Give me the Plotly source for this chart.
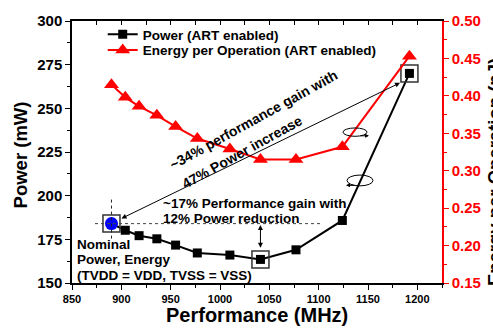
import plotly.graph_objects as go

# ---- data ----
perf_mhz = [890, 904, 918, 936, 955, 977, 1010, 1041, 1077, 1124, 1192]
power_mw = [184, 180.2, 177.1, 175.3, 171.7, 167.2, 166.0, 163.5, 169.0, 185.8, 270.0]
energy_nj = [0.415, 0.398, 0.386, 0.374, 0.359, 0.343, 0.329, 0.315, 0.315, 0.332, 0.453]
boxed_idx = [0, 7, 10]          # points highlighted with hollow squares
nominal_idx = 0                 # nominal operating point (blue)

x_ticks = [850, 900, 950, 1000, 1050, 1100, 1150, 1200]
FONT = "Liberation Sans, Arial, sans-serif"

fig = go.Figure()

fig.add_trace(go.Scatter(
    x=perf_mhz, y=power_mw, mode="lines+markers", name="Power (ART enabled)",
    line=dict(color="black", width=2), legend="legend",
    marker=dict(symbol="square", size=9, color="black"),
))
fig.add_trace(go.Scatter(
    x=[perf_mhz[i] for i in boxed_idx], y=[power_mw[i] for i in boxed_idx],
    mode="markers", showlegend=False, hoverinfo="skip",
    marker=dict(symbol="square-open", size=17, color="#333333", line=dict(width=1.5)),
))
fig.add_trace(go.Scatter(
    x=[perf_mhz[nominal_idx]], y=[power_mw[nominal_idx]], mode="markers",
    showlegend=False, marker=dict(symbol="circle", size=13, color="#0000ff"),
))
fig.add_trace(go.Scatter(
    x=perf_mhz, y=energy_nj, mode="lines+markers", yaxis="y2", legend="legend2",
    name="Energy per Operation (ART enabled)",
    line=dict(color="#ff0000", width=2),
    marker=dict(symbol="triangle-up", size=13, color="#ff0000"),
))
# invisible trace for top mirror axis
fig.add_trace(go.Scatter(x=[850], y=[150], xaxis="x2", mode="markers",
                         marker=dict(opacity=0), showlegend=False, hoverinfo="skip"))

leg_common = dict(xanchor="left", yanchor="top", bgcolor="rgba(0,0,0,0)",
                  font=dict(size=13.5, family=FONT, weight="bold"))
fig.update_layout(
    width=493, height=330,
    margin=dict(l=72, r=51, t=16, b=47),
    paper_bgcolor="white", plot_bgcolor="white",
    font=dict(family=FONT, color="black", weight="bold"),
    showlegend=True,
    legend=dict(x=0.083, y=(283 - 14) / 267, **leg_common),
    legend2=dict(x=0.083, y=(283 - 30) / 267, **leg_common),
    xaxis=dict(range=[850, 1225], tickvals=x_ticks, ticks="outside", ticklen=5,
               tickwidth=1.2, tickcolor="black",
               minor=dict(dtick=25, tick0=850, ticks="outside", ticklen=3, tickcolor="black"),
               showline=True, linecolor="black", linewidth=1.5, showgrid=False,
               zeroline=False, tickfont=dict(size=11, family=FONT, weight="bold")),
    xaxis2=dict(range=[850, 1225], overlaying="x", side="top", anchor="y",
                dtick=25, tick0=850, ticks="inside", ticklen=4, tickcolor="black",
                showticklabels=False, showline=True, linecolor="black", linewidth=1.5,
                showgrid=False, zeroline=False),
    yaxis=dict(range=[150, 300], dtick=25, tick0=150, ticks="outside", ticklen=5,
               tickwidth=1.2, tickcolor="black",
               minor=dict(dtick=12.5, tick0=150, ticks="outside", ticklen=3, tickcolor="black"),
               showline=True, linecolor="black", linewidth=1.5, showgrid=False,
               zeroline=False, tickfont=dict(size=15, family=FONT, weight="bold")),
    yaxis2=dict(range=[0.15, 0.50], dtick=0.05, tick0=0.15, tickformat=".2f",
                overlaying="y", side="right", ticks="outside", ticklen=5,
                tickcolor="#ff0000", tickwidth=1.2,
                minor=dict(dtick=0.025, tick0=0.15, ticks="outside", ticklen=3, tickcolor="#ff0000"),
                showline=True, linecolor="#ff0000", linewidth=1.5, showgrid=False,
                zeroline=False, tickfont=dict(size=15, color="#ff0000", family=FONT, weight="bold")),
)

def px2x(p):
    return 850 + (p - 72) * 375 / 370

def py2y(p):
    return 300 - (p - 16) * 150 / 267

# dotted guide lines
fig.add_shape(type="line", x0=px2x(95), x1=px2x(323), y0=power_mw[nominal_idx], y1=power_mw[nominal_idx],
              line=dict(color="#444444", width=1, dash="dot"))
fig.add_shape(type="line", x0=perf_mhz[nominal_idx], x1=perf_mhz[nominal_idx], y0=py2y(198), y1=py2y(238),
              line=dict(color="#222222", width=1, dash="dot"))
# ellipses
fig.add_shape(type="circle", x0=px2x(343), x1=px2x(367), y0=py2y(125), y1=py2y(133.5),
              line=dict(color="black", width=1))
fig.add_shape(type="circle", x0=px2x(347), x1=px2x(373), y0=py2y(173), y1=py2y(184),
              line=dict(color="black", width=1))

ann = []
def txt(text, x, y, size=13.5, angle=0, xanchor="center", color="black", xref="x", yref="y"):
    ann.append(dict(text=text, x=x, y=y, xref=xref, yref=yref, showarrow=False,
                    textangle=angle, xanchor=xanchor, yanchor="middle",
                    font=dict(size=size, color=color, family=FONT, weight="bold")))

txt("~34% performance gain with", px2x(253), py2y(117), size=14, angle=-29)
txt("47% Power increase", px2x(242), py2y(150), size=14, angle=-29)
txt("~17% Performance gain with", px2x(161), py2y(202), xanchor="left")
txt("12% Power reduction", px2x(161), py2y(217), xanchor="left")
txt("Nominal", px2x(75), py2y(243.5), xanchor="left")
txt("Power, Energy", px2x(75), py2y(259.5), xanchor="left")
txt("(TVDD = VDD, TVSS = VSS)", px2x(75), py2y(275.5), xanchor="left")
# axis titles
txt("Performance (MHz)", 0.5, (283 - 316) / 267, size=20, xref="paper", yref="paper")
txt("Power (mW)", (20 - 72) / 370, (283 - 153) / 267, size=18.5, angle=-90, xref="paper", yref="paper")
txt("Energy per Operation (nJ)", (494 - 72) / 370, (283 - 170) / 267, size=18.5, angle=-90,
    xref="paper", yref="paper")

# arrows
ann.append(dict(x=px2x(400), y=py2y(79), ax=px2x(120), ay=py2y(218), xref="x", yref="y",
                axref="x", ayref="y", text="", showarrow=True, arrowhead=2, startarrowhead=2,
                arrowside="end+start", arrowsize=1, startarrowsize=1, arrowwidth=1, arrowcolor="black"))
ann.append(dict(x=perf_mhz[7], y=py2y(247), ax=perf_mhz[7], ay=power_mw[nominal_idx], xref="x", yref="y",
                axref="x", ayref="y", text="", showarrow=True, arrowhead=2, startarrowhead=2,
                arrowside="end+start", arrowsize=1, startarrowsize=1, arrowwidth=1, arrowcolor="black"))
ann.append(dict(x=px2x(369), y=py2y(133), ax=-10, ay=0, xref="x", yref="y", text="",
                showarrow=True, arrowhead=2, arrowsize=0.8, arrowwidth=1, arrowcolor="black"))
ann.append(dict(x=px2x(346), y=py2y(183.5), ax=10, ay=0, xref="x", yref="y", text="",
                showarrow=True, arrowhead=2, arrowsize=0.8, arrowwidth=1, arrowcolor="black"))

fig.update_layout(annotations=ann)
fig.write_html("out.html")
